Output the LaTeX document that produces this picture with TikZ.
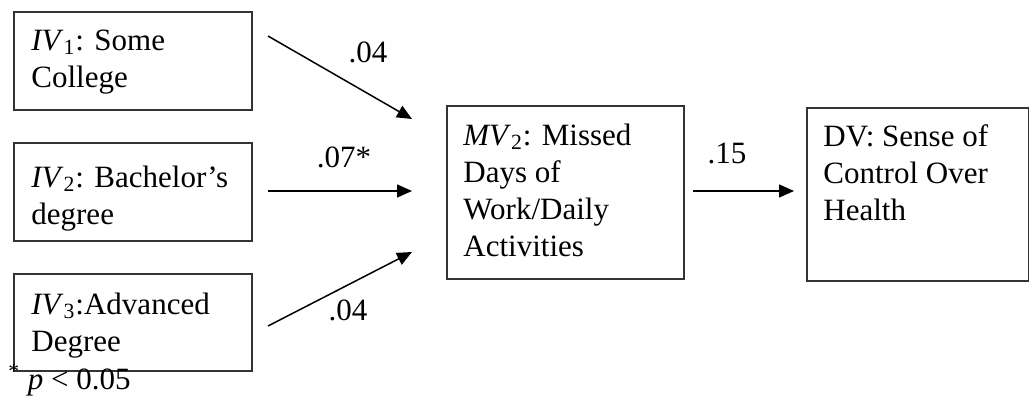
\documentclass[tikz,border=0pt]{standalone}
\usepackage{fontspec}
\setmainfont{Liberation Serif}
\usetikzlibrary{arrows.meta}
\begin{document}
\begin{tikzpicture}[x=0.5pt,y=-0.5pt,
  box/.style={draw=black!80, line width=0.9pt, inner sep=0pt, anchor=north west},
  txt/.style={anchor=north west, inner sep=0pt, align=left, font=\fontsize{15.5}{18.5}\selectfont},
  lbl/.style={inner sep=0pt, font=\fontsize{15.5}{18}\selectfont},
  arr/.style={line width=0.75pt, -{Triangle[length=7.5pt,width=6.5pt]}}]
\useasboundingbox (0,0) rectangle (1029,408);
% boxes
\node[box, minimum width=119pt, minimum height=49pt] (iv1) at (13,11) {};
\node[box, minimum width=119pt, minimum height=49pt] (iv2) at (13,142) {};
\node[box, minimum width=119pt, minimum height=48.5pt] (iv3) at (13,273) {};
\node[box, minimum width=118.5pt, minimum height=86.5pt] (mv) at (446,105) {};
\node[box, minimum width=110.75pt, minimum height=86.5pt] (dv) at (806,107) {};
% texts
\node[txt] (t1) at (31,29.5) {\textit{IV}\textsubscript{1}: Some\\College};
\node[txt] (t2) at (31,165.5) {\textit{IV}\textsubscript{2}: Bachelor’s\\degree};
\node[txt] (t3) at (31,292.5) {\textit{IV}\textsubscript{3}:Advanced\\Degree};
\node[txt] (t4) at (463,123.5) {\textit{MV}\textsubscript{2}: Missed\\Days of\\Work/Daily\\Activities};
\node[txt] (t5) at (823,124.5) {DV: Sense of\\Control Over\\Health};
% arrows
\coordinate (s1) at (268,36);  \coordinate (e1) at (412,119);
\coordinate (s2) at (268,191); \coordinate (e2) at (412,191);
\coordinate (s3) at (268,326); \coordinate (e3) at (412,252);
\coordinate (s4) at (693,191); \coordinate (e4) at (794,191);
\draw[arr] (s1) -- (e1);
\draw[arr] (s2) -- (e2);
\draw[arr] (s3) -- (e3);
\draw[arr] (s4) -- (e4);
% labels
\node[lbl] (l1) at (368,52) {.04};
\node[lbl] (l2) at (344,157) {.07*};
\node[lbl] (l3) at (348,310) {.04};
\node[lbl] (l4) at (727,153) {.15};
\node[lbl, anchor=base west] (note) at (8,389) {\textsuperscript{*} \textit{p} < 0.05};
\end{tikzpicture}
\end{document}
